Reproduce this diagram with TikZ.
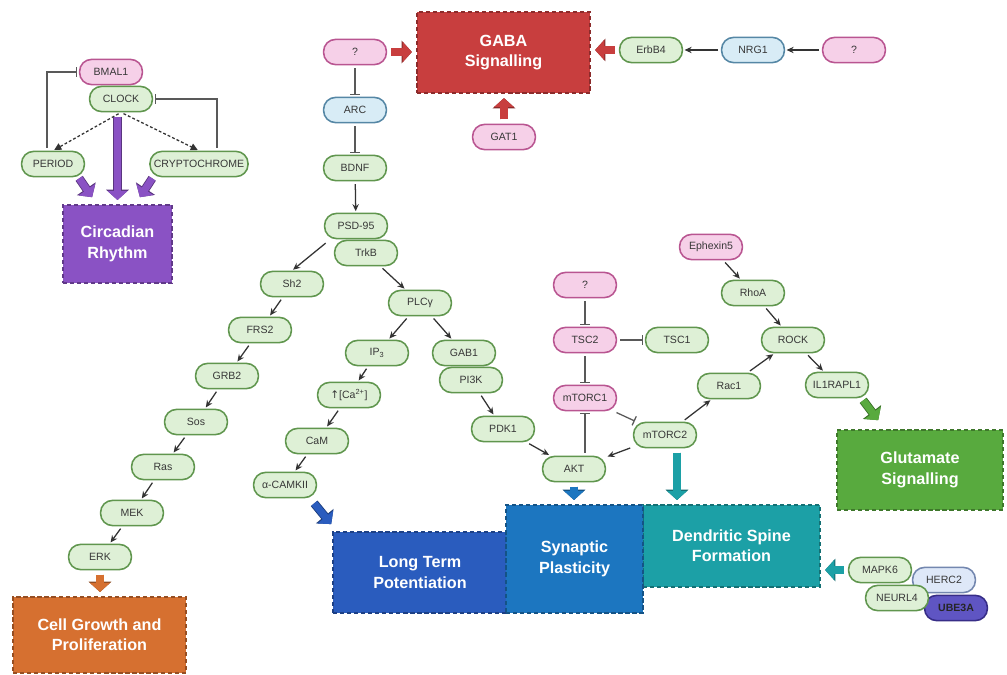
\documentclass[tikz,border=0pt]{standalone}
\usepackage{fontspec}
\setmainfont{Liberation Sans}
\newfontfamily\arrowfont{DejaVu Sans}
\usepackage{xcolor}
\definecolor{pgreen}{RGB}{222,240,214}
\definecolor{pgreenline}{RGB}{96,150,78}
\definecolor{ppink}{RGB}{246,208,232}
\definecolor{ppinkline}{RGB}{185,85,145}
\definecolor{pblue}{RGB}{216,236,246}
\definecolor{pblueline}{RGB}{85,135,165}
\definecolor{pherc}{RGB}{222,232,248}
\definecolor{phercline}{RGB}{115,135,175}
\definecolor{pube}{RGB}{95,85,195}
\definecolor{pubeline}{RGB}{55,45,135}
\definecolor{bxpurple}{RGB}{138,82,196}
\definecolor{bxred}{RGB}{200,62,62}
\definecolor{bxorange}{RGB}{214,112,48}
\definecolor{bxltp}{RGB}{42,92,190}
\definecolor{bxsyn}{RGB}{28,118,192}
\definecolor{bxteal}{RGB}{28,160,166}
\definecolor{bxgreen}{RGB}{88,170,62}
\definecolor{txtgray}{RGB}{55,55,55}
\usepackage{tikz}
\usetikzlibrary{arrows.meta, positioning, calc}

\begin{document}
\begin{tikzpicture}[x=0.025cm, y=-0.025cm,
  pill/.style={draw=pgreenline, fill=pgreen, line width=1.1pt, rounded corners=0.3cm,
    minimum width=1.57cm, minimum height=0.63cm, inner sep=1pt,
    font=\fontsize{7.5}{8.5}\selectfont, text=txtgray},
  pinkpill/.style={pill, draw=ppinkline, fill=ppink},
  bluepill/.style={pill, draw=pblueline, fill=pblue},
  outbox/.style={draw=#1!70!black, fill=#1, dash pattern=on 3pt off 2pt, line width=1.1pt,
    text=white, font=\bfseries\fontsize{11.5}{14.5}\selectfont, align=center},
  act/.style={-{Stealth[length=5pt,width=4.5pt]}, line width=0.9pt, draw=black!80,
    shorten <=2pt, shorten >=1pt},
  inh/.style={-{Bar[width=7pt]}, line width=0.9pt, draw=black!65,
    shorten <=2pt, shorten >=1pt},
  fat/.style={-{Triangle[length=6.5pt,width=14pt]}, line width=5pt, draw=#1,
    shorten <=3pt, shorten >=3pt,
    preaction={draw=#1!65!black, line width=6.2pt, -{Triangle[length=7.3pt,width=15.8pt]}}}]

\useasboundingbox[fill=white] (0,0) rectangle (1007,675);

% --- Circadian rhythm ---
\node[pinkpill] (bmal) at (111,72) {BMAL1};
\node[pill] (clock) at (121,99) {CLOCK};
\node[pill] (period) at (53,164) {PERIOD};
\node[pill, minimum width=2.45cm] (crypto) at (199,164) {CRYPTOCHROME};
\node[outbox=bxpurple, minimum width=2.73cm, minimum height=1.95cm] (circ) at (117.5,244) {Circadian\\Rhythm};

\draw[inh] ($(period.north)+(-6,0)$) |- (bmal.west);
\draw[inh] ($(crypto.north)+(18,0)$) |- (clock.east);
\draw[act, dash pattern=on 2pt off 1.5pt, -{Triangle[length=5pt,width=5pt]}] (clock.south) -- (period.north);
\draw[act, dash pattern=on 2pt off 1.5pt, -{Triangle[length=5pt,width=5pt]}] (clock.south) -- (crypto.north);
\draw[fat=bxpurple] (circ.north |- clock.south) -- (circ.north);
\draw[fat=bxpurple, shorten <=0pt, shorten >=0pt] ($(period.south east)+(-6,1)$) -- ($(circ.north west)+(30,-7)$);
\draw[fat=bxpurple, shorten <=0pt, shorten >=0pt] ($(crypto.south west)+(3,1)$) -- ($(circ.north east)+(-33,-7)$);

% --- GABA signalling ---
\node[outbox=bxred, minimum width=4.33cm, minimum height=2.03cm] (gaba) at (503.5,52.5) {GABA\\Signalling};
\node[pinkpill] (qgaba) at (355,52) {?};
\node[bluepill] (arc) at (355,110) {ARC};
\node[pill] (bdnf) at (355,168) {BDNF};
\node[pinkpill] (gat1) at (504,137) {GAT1};
\node[pill] (erbb4) at (651,50) {ErbB4};
\node[bluepill] (nrg1) at (753,50) {NRG1};
\node[pinkpill] (qnrg) at (854,50) {?};

\draw[fat=bxred] (qgaba.east) -- (qgaba.east -| gaba.west);
\draw[fat=bxred] (gat1.north) -- (gat1.north |- gaba.south);
\draw[fat=bxred] (erbb4.west) -- (erbb4.west -| gaba.east);
\draw[act] (nrg1) -- (erbb4);
\draw[act] (qnrg) -- (nrg1);
\draw[inh] (qgaba) -- (arc);
\draw[inh] (arc) -- (bdnf);

% --- TrkB signalling ---
\node[pill] (psd95) at (356,226) {PSD-95};
\node[pill] (trkb) at (366,253) {TrkB};
\node[pill] (sh2) at (292,284) {Sh2};
\node[pill] (frs2) at (260,330) {FRS2};
\node[pill] (grb2) at (227,376) {GRB2};
\node[pill] (sos) at (196,422) {Sos};
\node[pill] (ras) at (163,467) {Ras};
\node[pill] (mek) at (132,513) {MEK};
\node[pill] (erk) at (100,557) {ERK};
\node[outbox=bxorange, minimum width=4.33cm, minimum height=1.9cm] (cell) at (99.5,635) {Cell Growth and\\Proliferation};

\draw[act] (bdnf) -- (psd95);
\draw[act] ($(psd95.south west)+(4,2)$) -- (sh2.north);
\draw[act] (sh2) -- (frs2);
\draw[act] (frs2) -- (grb2);
\draw[act] (grb2) -- (sos);
\draw[act] (sos) -- (ras);
\draw[act] (ras) -- (mek);
\draw[act] (mek) -- (erk);
\draw[fat=bxorange] (erk.south) -- (erk.south |- cell.north);

% PLCg and PI3K branches
\node[pill] (plcg) at (420,303) {PLCγ};
\node[pill] (ip3) at (377,353) {IP\textsubscript{3}};
\node[pill] (gab1) at (464,353) {GAB1};
\node[pill] (pi3k) at (471,380) {PI3K};
\node[pill] (ca) at (349,395) {{\arrowfont ↑}[Ca\textsuperscript{2+}]};
\node[pill] (cam) at (317,441) {CaM};
\node[pill] (camk) at (285,485) {α-CAMKII};
\node[pill] (pdk1) at (503,429) {PDK1};

\draw[act] (trkb) -- (plcg);
\draw[act] (plcg) -- (ip3);
\draw[act] (plcg) -- (gab1);
\draw[act] (ip3) -- (ca);
\draw[act] (ca) -- (cam);
\draw[act] (cam) -- (camk);
\draw[act] (pi3k) -- (pdk1);

% --- mTOR and Rho signalling ---
\node[pinkpill] (qtsc) at (585,285) {?};
\node[pinkpill] (tsc2) at (585,340) {TSC2};
\node[pill] (tsc1) at (677,340) {TSC1};
\node[pinkpill] (mtorc1) at (585,398) {mTORC1};
\node[pill] (mtorc2) at (665,435) {mTORC2};
\node[pill] (akt) at (574,469) {AKT};
\node[pill] (rac1) at (729,386) {Rac1};
\node[pinkpill] (ephexin) at (711,247) {Ephexin5};
\node[pill] (rhoa) at (753,293) {RhoA};
\node[pill] (rock) at (793,340) {ROCK};
\node[pill] (il1) at (837,385) {IL1RAPL1};

\draw[act] (pdk1) -- (akt);
\draw[inh] (qtsc) -- (tsc2);
\draw[inh] (tsc2) -- (tsc1);
\draw[inh] (tsc2) -- (mtorc1);
\draw[inh] (mtorc1.south |- akt.north) -- (mtorc1.south);
\draw[inh] (mtorc1) -- (mtorc2);
\draw[act] (mtorc2) -- (akt);
\draw[act] (mtorc2) -- (rac1);
\draw[act] (rac1) -- (rock);
\draw[act] (ephexin) -- (rhoa);
\draw[act] (rhoa) -- (rock);
\draw[act] (rock) -- (il1);

% --- Outcome boxes ---
\node[outbox=bxltp, minimum width=4.35cm, minimum height=2.03cm] (ltp) at (420,572.5) {Long Term\\Potentiation};
\node[outbox=bxteal, minimum width=4.43cm, minimum height=2.05cm] (dsf) at (731.5,546) {Dendritic Spine\\Formation};
\node[outbox=bxsyn, minimum width=3.43cm, minimum height=2.7cm] (syn) at (574.5,559) {Synaptic\\Plasticity};
\node[outbox=bxgreen, minimum width=4.15cm, minimum height=2.0cm] (glu) at (920,470) {Glutamate\\Signalling};

\draw[fat=bxltp, shorten <=0pt, shorten >=0pt] ($(camk.south east)+(-3,5)$) -- ($(ltp.north west)+(-1,-7)$);
\draw[fat=bxsyn] (akt.south) -- (akt.south |- syn.north);
\draw[fat=bxteal] ($(mtorc2.south)+(12,0)$) -- ($(mtorc2.south |- dsf.north)+(12,0)$);
\draw[fat=bxgreen, shorten <=0pt, shorten >=0pt] ($(il1.south east)+(-6,2)$) -- ($(glu.north west)+(42,-9)$);

% MAPK6 complex
\node[pill, draw=phercline, fill=pherc] (herc2) at (944,580) {HERC2};
\node[pill, draw=pubeline, fill=pube, text=black!85, font=\bfseries\fontsize{7.5}{8.5}\selectfont] (ube3a) at (956,608) {UBE3A};
\node[pill] (mapk6) at (880,570) {MAPK6};
\node[pill] (neurl4) at (897,598) {NEURL4};

\draw[fat=bxteal] (mapk6.west) -- (mapk6.west -| dsf.east);

\end{tikzpicture}
\end{document}
